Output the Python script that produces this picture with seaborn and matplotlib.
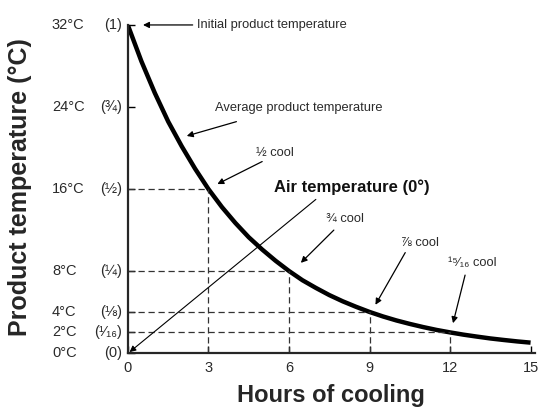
import numpy as np
import pandas as pd
import matplotlib.pyplot as plt
import seaborn as sns

# average product temperature, every half hour
hours = [0, 0.5, 1, 1.5, 2, 2.5, 3, 3.5, 4, 4.5, 5, 5.5, 6, 6.5, 7, 7.5,
         8, 8.5, 9, 9.5, 10, 10.5, 11, 11.5, 12, 12.5, 13, 13.5, 14, 14.5, 15]
temps = [32, 28.5, 25.4, 22.6, 20.2, 18.0, 16, 14.25, 12.7, 11.3, 10.1, 9.0, 8,
         7.1, 6.35, 5.65, 5.04, 4.5, 4, 3.56, 3.17, 2.83, 2.52, 2.24, 2, 1.78,
         1.59, 1.41, 1.26, 1.12, 1.0]

# half-cooling guide points
guide_hours = [3, 6, 9, 12]
guide_temps = [16, 8, 4, 2]

ytick_vals = [0, 2, 4, 8, 16, 24, 32]
ytick_temp = ['0°C', '2°C', '4°C', '8°C', '16°C', '24°C', '32°C']
ytick_frac = ['(0)', '(¹⁄₁₆)', '(⅛)', '(¼)', '(½)', '(¾)', '(1)']
xtick_vals = [0, 3, 6, 9, 12, 15]

# callouts: label, text position, arrow tail, arrow head
callouts = [
    ('Average product temperature', (3.26, 23.9), (4.04, 22.6), (2.19, 21.2)),
    ('½ cool', (4.78, 19.55), (5.0, 18.7), (3.33, 16.5)),
    ('¾ cool', (7.37, 13.1), (7.67, 12.0), (6.44, 8.8)),
    ('⅞ cool', (10.19, 10.75), (10.33, 9.8), (9.22, 4.7)),
    ('¹⁵⁄₁₆ cool', (11.93, 8.8), (12.56, 7.6), (12.11, 2.9)),
]

sns.set_style("ticks")
plt.rcParams['font.family'] = ['Liberation Sans', 'DejaVu Sans']
txt_col = '#2a2a2a'

fig = plt.figure(figsize=(5.4, 4.07), dpi=100)
ax = fig.add_axes([0.237, 0.133, 0.753, 0.817])

df = pd.DataFrame({'hours': hours, 'temp': temps})
sns.lineplot(data=df, x='hours', y='temp', color='black', linewidth=3.2, ax=ax,
             solid_capstyle='butt')

dash = dict(color='#333333', linewidth=0.9, linestyle=(0, (5, 3)))
for h, t in zip(guide_hours, guide_temps):
    ax.plot([0, h], [t, t], **dash)
    ax.plot([h, h], [0, t], **dash)

arrow = dict(arrowstyle='-|>', color='black', lw=0.9, mutation_scale=9,
             shrinkA=0, shrinkB=0)

# initial product temperature
ax.annotate('', xy=(0.56, 32.05), xytext=(2.41, 32.05), arrowprops=arrow)
ax.text(2.56, 32.05, 'Initial product temperature', ha='left', va='center',
        fontsize=9.3, color=txt_col)

for label, tpos, tail, head in callouts:
    ax.text(tpos[0], tpos[1], label, ha='left', va='center', fontsize=9.3,
            color=txt_col)
    ax.annotate('', xy=head, xytext=tail, arrowprops=arrow)

# air temperature
ax.text(5.44, 16.2, 'Air temperature (0°)', ha='left', va='center',
        fontsize=12, fontweight='bold', color='#111111')
ax.annotate('', xy=(0.06, 0.08), xytext=(7.0, 15.0),
            arrowprops=dict(arrow, lw=0.8))

ax.set_xlim(0, 15.15)
ax.set_ylim(0, 32.5)
ax.set_xticks(xtick_vals)
ax.set_yticks(ytick_vals)
ax.set_yticklabels([''] * len(ytick_vals))
ax.tick_params(axis='both', direction='in', length=5, width=1, colors='black',
               labelsize=10.5, labelcolor=txt_col)
ax.tick_params(axis='x', pad=6)
sns.despine(ax=ax)
ax.spines['left'].set_linewidth(1.6)
ax.spines['bottom'].set_linewidth(1.6)
ax.spines['left'].set_bounds(0, 32)

trans = ax.get_yaxis_transform()
for v, tl, fl in zip(ytick_vals, ytick_temp, ytick_frac):
    ax.text(-0.187, v, tl, transform=trans, ha='left', va='center',
            fontsize=10.5, color=txt_col)
    ax.text(-0.015, v, fl, transform=trans, ha='right', va='center',
            fontsize=10.5, color=txt_col)

ax.set_xlabel('Hours of cooling', fontsize=17, fontweight='bold', labelpad=6)
ax.set_ylabel('Product temperature (°C)', fontsize=18, fontweight='bold',
              ha='center', va='center')
ax.yaxis.set_label_coords(-0.266, 0.5)

fig.savefig('out.png', dpi=100)
